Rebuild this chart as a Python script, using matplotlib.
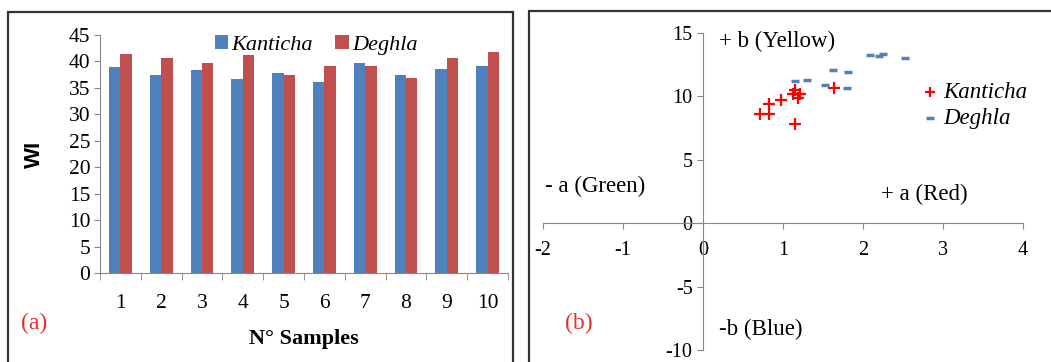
import matplotlib.pyplot as plt
import numpy as np
from matplotlib.patches import Rectangle

plt.rcParams['axes.unicode_minus'] = False

# bar chart data (a)
samples = ['1', '2', '3', '4', '5', '6', '7', '8', '9', '10']
wi_kanticha = [39.0, 37.4, 38.4, 36.6, 37.8, 36.2, 39.8, 37.4, 38.5, 39.2]
wi_deghla = [41.4, 40.6, 39.8, 41.2, 37.4, 39.2, 39.2, 36.8, 40.6, 41.8]

# a*/b* scatter data (b)
a_kanticha = [0.71, 0.82, 0.82, 0.98, 1.15, 1.13, 1.15, 1.21, 1.19, 1.64]
b_kanticha = [8.6, 8.6, 9.4, 9.7, 7.8, 10.2, 10.5, 10.2, 9.9, 10.7]
a_deghla = [1.15, 1.30, 1.53, 1.63, 1.81, 1.80, 2.09, 2.20, 2.25, 2.53]
b_deghla = [11.2, 11.3, 10.9, 12.1, 11.9, 10.7, 13.25, 13.15, 13.35, 13.0]

BLUE = '#4F81BD'
RED = '#C0504D'
GRAY = '#868686'
serif = 'Liberation Serif'
TICK = 15.5

fig = plt.figure(figsize=(10.51, 3.62), dpi=100)

# panel frames
fig.patches.append(Rectangle((8 / 1051, -0.1), (513 - 8) / 1051, 1.1 - 12 / 362,
                             transform=fig.transFigure, fill=False,
                             ec='#333333', lw=1.6))
fig.patches.append(Rectangle((529 / 1051, -0.1), 0.6, 1.1 - 11 / 362,
                             transform=fig.transFigure, fill=False,
                             ec='#333333', lw=1.6))

# ---- (a) bar chart
ax1 = fig.add_axes([100 / 1051, 1 - 273 / 362, 408 / 1051, 238 / 362])
x = np.arange(len(samples))
w = 0.28
ax1.bar(x - w / 2, wi_kanticha, w, color=BLUE, label='Kanticha')
ax1.bar(x + w / 2, wi_deghla, w, color=RED, label='Deghla')
ax1.set_xlim(-0.5, len(samples) - 0.5)
ax1.set_ylim(0, 45)
ax1.set_yticks(range(0, 46, 5))
ax1.set_xticks(x)
ax1.set_xticklabels(samples)
ax1.set_xticks(np.arange(-0.5, len(samples), 1), minor=True)
ax1.tick_params(axis='x', which='major', length=0, pad=15)
ax1.tick_params(axis='x', which='minor', length=5, color=GRAY, direction='out')
ax1.tick_params(axis='y', length=4, color=GRAY, pad=3)
for lab in ax1.get_xticklabels() + ax1.get_yticklabels():
    lab.set_fontfamily(serif)
    lab.set_fontsize(TICK)
for s in ['top', 'right']:
    ax1.spines[s].set_visible(False)
for s in ['left', 'bottom']:
    ax1.spines[s].set_color(GRAY)
ax1.set_ylabel('WI', fontsize=16, fontweight='bold', family='Liberation Sans')
ax1.yaxis.set_label_coords(-0.135, 0.5)
ax1.set_xlabel('N° Samples', fontsize=16, fontweight='bold', family=serif)
ax1.xaxis.set_label_coords(0.5, -0.237)
ax1.legend(loc='upper center', bbox_to_anchor=(0.53, 1.085), ncol=2, frameon=False,
           prop={'family': serif, 'style': 'italic', 'size': 16},
           handlelength=0.6, handleheight=0.6, handletextpad=0.15, columnspacing=1.0)
fig.text(21 / 1051, 1 - 323 / 362, '(a)', color='#E8302A', fontsize=17,
         family=serif, va='center')

# ---- (b) scatter
ax2 = fig.add_axes([543 / 1051, 12 / 362, 480 / 1051, (350 - 33) / 362])
ax2.scatter(a_kanticha, b_kanticha, marker='+', s=80, color='#FF0000',
            linewidths=1.6, label='Kanticha')
ax2.scatter(a_deghla, b_deghla, marker='_', s=40, color=BLUE,
            linewidths=2.5, label='Deghla')
ax2.set_xlim(-2, 4)
ax2.set_ylim(-10, 15)
ax2.set_xticks(range(-2, 5))
ax2.set_yticks(range(-10, 16, 5))
ax2.spines['left'].set_position(('data', 0))
ax2.spines['bottom'].set_position(('data', 0))
for s in ['top', 'right']:
    ax2.spines[s].set_visible(False)
for s in ['left', 'bottom']:
    ax2.spines[s].set_color(GRAY)
ax2.tick_params(axis='both', length=4, color=GRAY, direction='out')
ax2.tick_params(axis='x', pad=9)
for lab in ax2.get_xticklabels() + ax2.get_yticklabels():
    lab.set_fontfamily(serif)
    lab.set_fontsize(14.5)
ax2.patch.set_alpha(0)
ax2.legend(loc='upper left', bbox_to_anchor=(0.752, 0.91), frameon=False,
           prop={'family': serif, 'style': 'italic', 'size': 16.5},
           handlelength=0.5, handletextpad=0.3, labelspacing=0.2,
           scatterpoints=1, markerscale=0.8)

txt = dict(fontsize=16.5, family=serif)
ax2.text(0.2, 14.3, '+ b (Yellow)', va='center', **txt)
ax2.text(-1.98, 2.9, '- a (Green)', va='center', **txt)
ax2.text(2.22, 2.3, '+ a (Red)', va='center', **txt)
ax2.text(0.2, -8.4, '-b (Blue)', va='center', **txt)
ax2.text(-1.73, -7.9, '(b)', va='center', color='#E8302A', fontsize=17, family=serif)

fig.savefig('out.png', dpi=100)
